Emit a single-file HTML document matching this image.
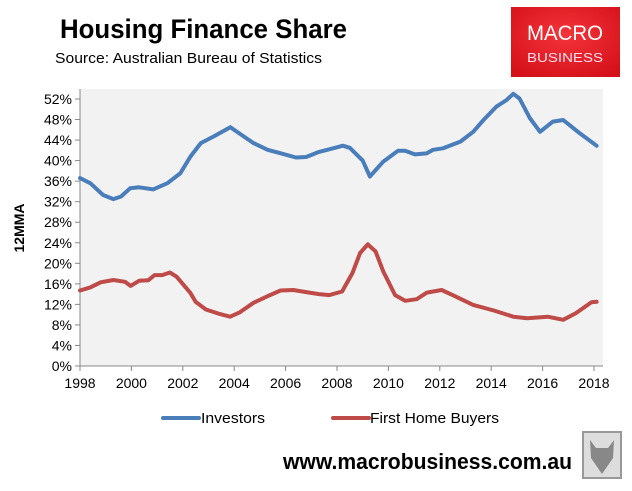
<!DOCTYPE html>
<html><head><meta charset="utf-8"><style>
html,body{margin:0;padding:0;background:#fff;}
svg{display:block;font-family:"Liberation Sans",sans-serif;}
</style></head><body>
<svg id="chart" width="632" height="491" viewBox="0 0 632 491">
<text x="60" y="38" font-size="27" font-weight="bold" textLength="287" lengthAdjust="spacingAndGlyphs">Housing Finance Share</text>
<text x="55" y="63" font-size="15" textLength="267" lengthAdjust="spacingAndGlyphs">Source: Australian Bureau of Statistics</text>
<g>
<defs><radialGradient id="lg" cx="50%" cy="40%" r="70%"><stop offset="0" stop-color="#f4343a"/><stop offset="1" stop-color="#d41018"/></radialGradient></defs>
<rect x="511" y="7" width="109" height="70" fill="url(#lg)"/>
<text x="565" y="40" font-size="21" fill="#fff" text-anchor="middle" textLength="76" lengthAdjust="spacingAndGlyphs">MACRO</text>
<text x="565" y="62" font-size="13" fill="#fde" text-anchor="middle" textLength="76" lengthAdjust="spacingAndGlyphs">BUSINESS</text>
</g>
<rect x="80" y="89" width="523" height="277" fill="#f2f2f2"/>
<g id="axes"></g>
<g id="series"></g>
<text transform="translate(24,228) rotate(-90)" font-size="14" font-weight="bold" text-anchor="middle">12MMA</text>
<g>
<line x1="163" y1="418" x2="199" y2="418" stroke="#4a7ebb" stroke-width="4" stroke-linecap="round"/>
<text x="201" y="423" font-size="15" textLength="64" lengthAdjust="spacingAndGlyphs">Investors</text>
</g>
<g>
<line x1="333" y1="418" x2="369" y2="418" stroke="#be4b48" stroke-width="4" stroke-linecap="round"/>
<text x="370" y="423" font-size="15" textLength="129" lengthAdjust="spacingAndGlyphs">First Home Buyers</text>
</g>
<text x="283" y="469" font-size="22" font-weight="bold" textLength="289" lengthAdjust="spacingAndGlyphs">www.macrobusiness.com.au</text>
<g>
<rect x="583" y="432" width="38" height="46" fill="#ddd" stroke="#999" stroke-width="2"/>
<path d="M590 440 L596 448 L608 448 L614 440 L613 458 L602 474 L591 458 Z" fill="#888"/>
</g>
</svg>
<script>
const yTicks=[0,4,8,12,16,20,24,28,32,36,40,44,48,52];
const xTicks=[1998,2000,2002,2004,2006,2008,2010,2012,2014,2016,2018];
const invYears=[1998,1998.4,1998.9,1999.3,1999.6,1999.95,2000.3,2000.85,2001.4,2001.9,2002.3,2002.7,2003.2,2003.85,2004.2,2004.75,2005.3,2005.9,2006.4,2006.8,2007.3,2007.7,2008.23,2008.5,2009.0,2009.28,2009.8,2010.37,2010.65,2011.03,2011.49,2011.74,2012.13,2012.8,2013.3,2013.7,2014.2,2014.6,2014.86,2015.1,2015.5,2015.9,2016.4,2016.8,2017.45,2018.1];
const invValues=[36.6,35.6,33.3,32.5,33.0,34.6,34.8,34.4,35.6,37.5,40.8,43.4,44.7,46.5,45.3,43.4,42.1,41.3,40.6,40.7,41.7,42.2,42.9,42.5,40.0,36.9,39.8,41.9,41.9,41.2,41.4,42.1,42.4,43.7,45.6,47.9,50.5,51.8,53.0,52.1,48.3,45.6,47.6,47.9,45.3,42.9];
const fhbYears=[1998,1998.4,1998.8,1999.3,1999.75,1999.97,2000.3,2000.66,2000.9,2001.2,2001.5,2001.76,2002.3,2002.5,2002.9,2003.45,2003.84,2004.2,2004.75,2005.3,2005.8,2006.3,2006.8,2007.3,2007.7,2008.2,2008.6,2008.9,2009.2,2009.5,2009.8,2010.26,2010.65,2011.1,2011.5,2012.07,2012.5,2013.3,2014.1,2014.86,2015.4,2016.2,2016.8,2017.3,2017.9,2018.1];
const fhbValues=[14.7,15.3,16.3,16.75,16.4,15.6,16.6,16.7,17.7,17.7,18.2,17.4,14.2,12.5,11.0,10.1,9.6,10.4,12.3,13.6,14.7,14.8,14.4,14.0,13.8,14.5,18.1,22.0,23.7,22.3,18.4,13.8,12.7,13.0,14.3,14.8,13.8,11.9,10.8,9.6,9.3,9.6,9.0,10.3,12.4,12.5];
const NS="http://www.w3.org/2000/svg";
const X=y=>80+(y-1998)*25.7;
const Y=v=>366-v*20.54/4;
const axes=document.getElementById('axes'),ser=document.getElementById('series');
function mk(tag,attrs,parent){const e=document.createElementNS(NS,tag);for(const k in attrs)e.setAttribute(k,attrs[k]);parent.appendChild(e);return e;}
const yl=mk('line',{x1:80,y1:89,x2:80,y2:366,stroke:'#888'},axes);


const xl=mk('line',{x1:80,y1:366,x2:603,y2:366,stroke:'#888'},axes);


yTicks.forEach(v=>{
 mk('line',{x1:75,y1:Y(v),x2:80,y2:Y(v),stroke:'#888'},axes);
 const t=mk('text',{x:72,y:Y(v)+5,'font-size':14,'text-anchor':'end'},axes);
 t.textContent=v+'%';
 
 
});
xTicks.forEach(y=>{
 mk('line',{x1:X(y),y1:366,x2:X(y),y2:371,stroke:'#888'},axes);
 const t=mk('text',{x:X(y),y:388,'font-size':14,'text-anchor':'middle'},axes);
 t.textContent=y;
 
 
});
function line(xs,vs,color,name){
 const d=xs.map((x,i)=>(i?'L':'M')+X(x).toFixed(1)+' '+Y(vs[i]).toFixed(1)).join(' ');
 const p=mk('path',{d:d,fill:'none',stroke:color,'stroke-width':4,'stroke-linejoin':'round','stroke-linecap':'round'},ser);
 
 
}
line(invYears,invValues,'#4a7ebb','investors-line');
line(fhbYears,fhbValues,'#be4b48','first-home-buyers-line');
</script>
</body></html>
